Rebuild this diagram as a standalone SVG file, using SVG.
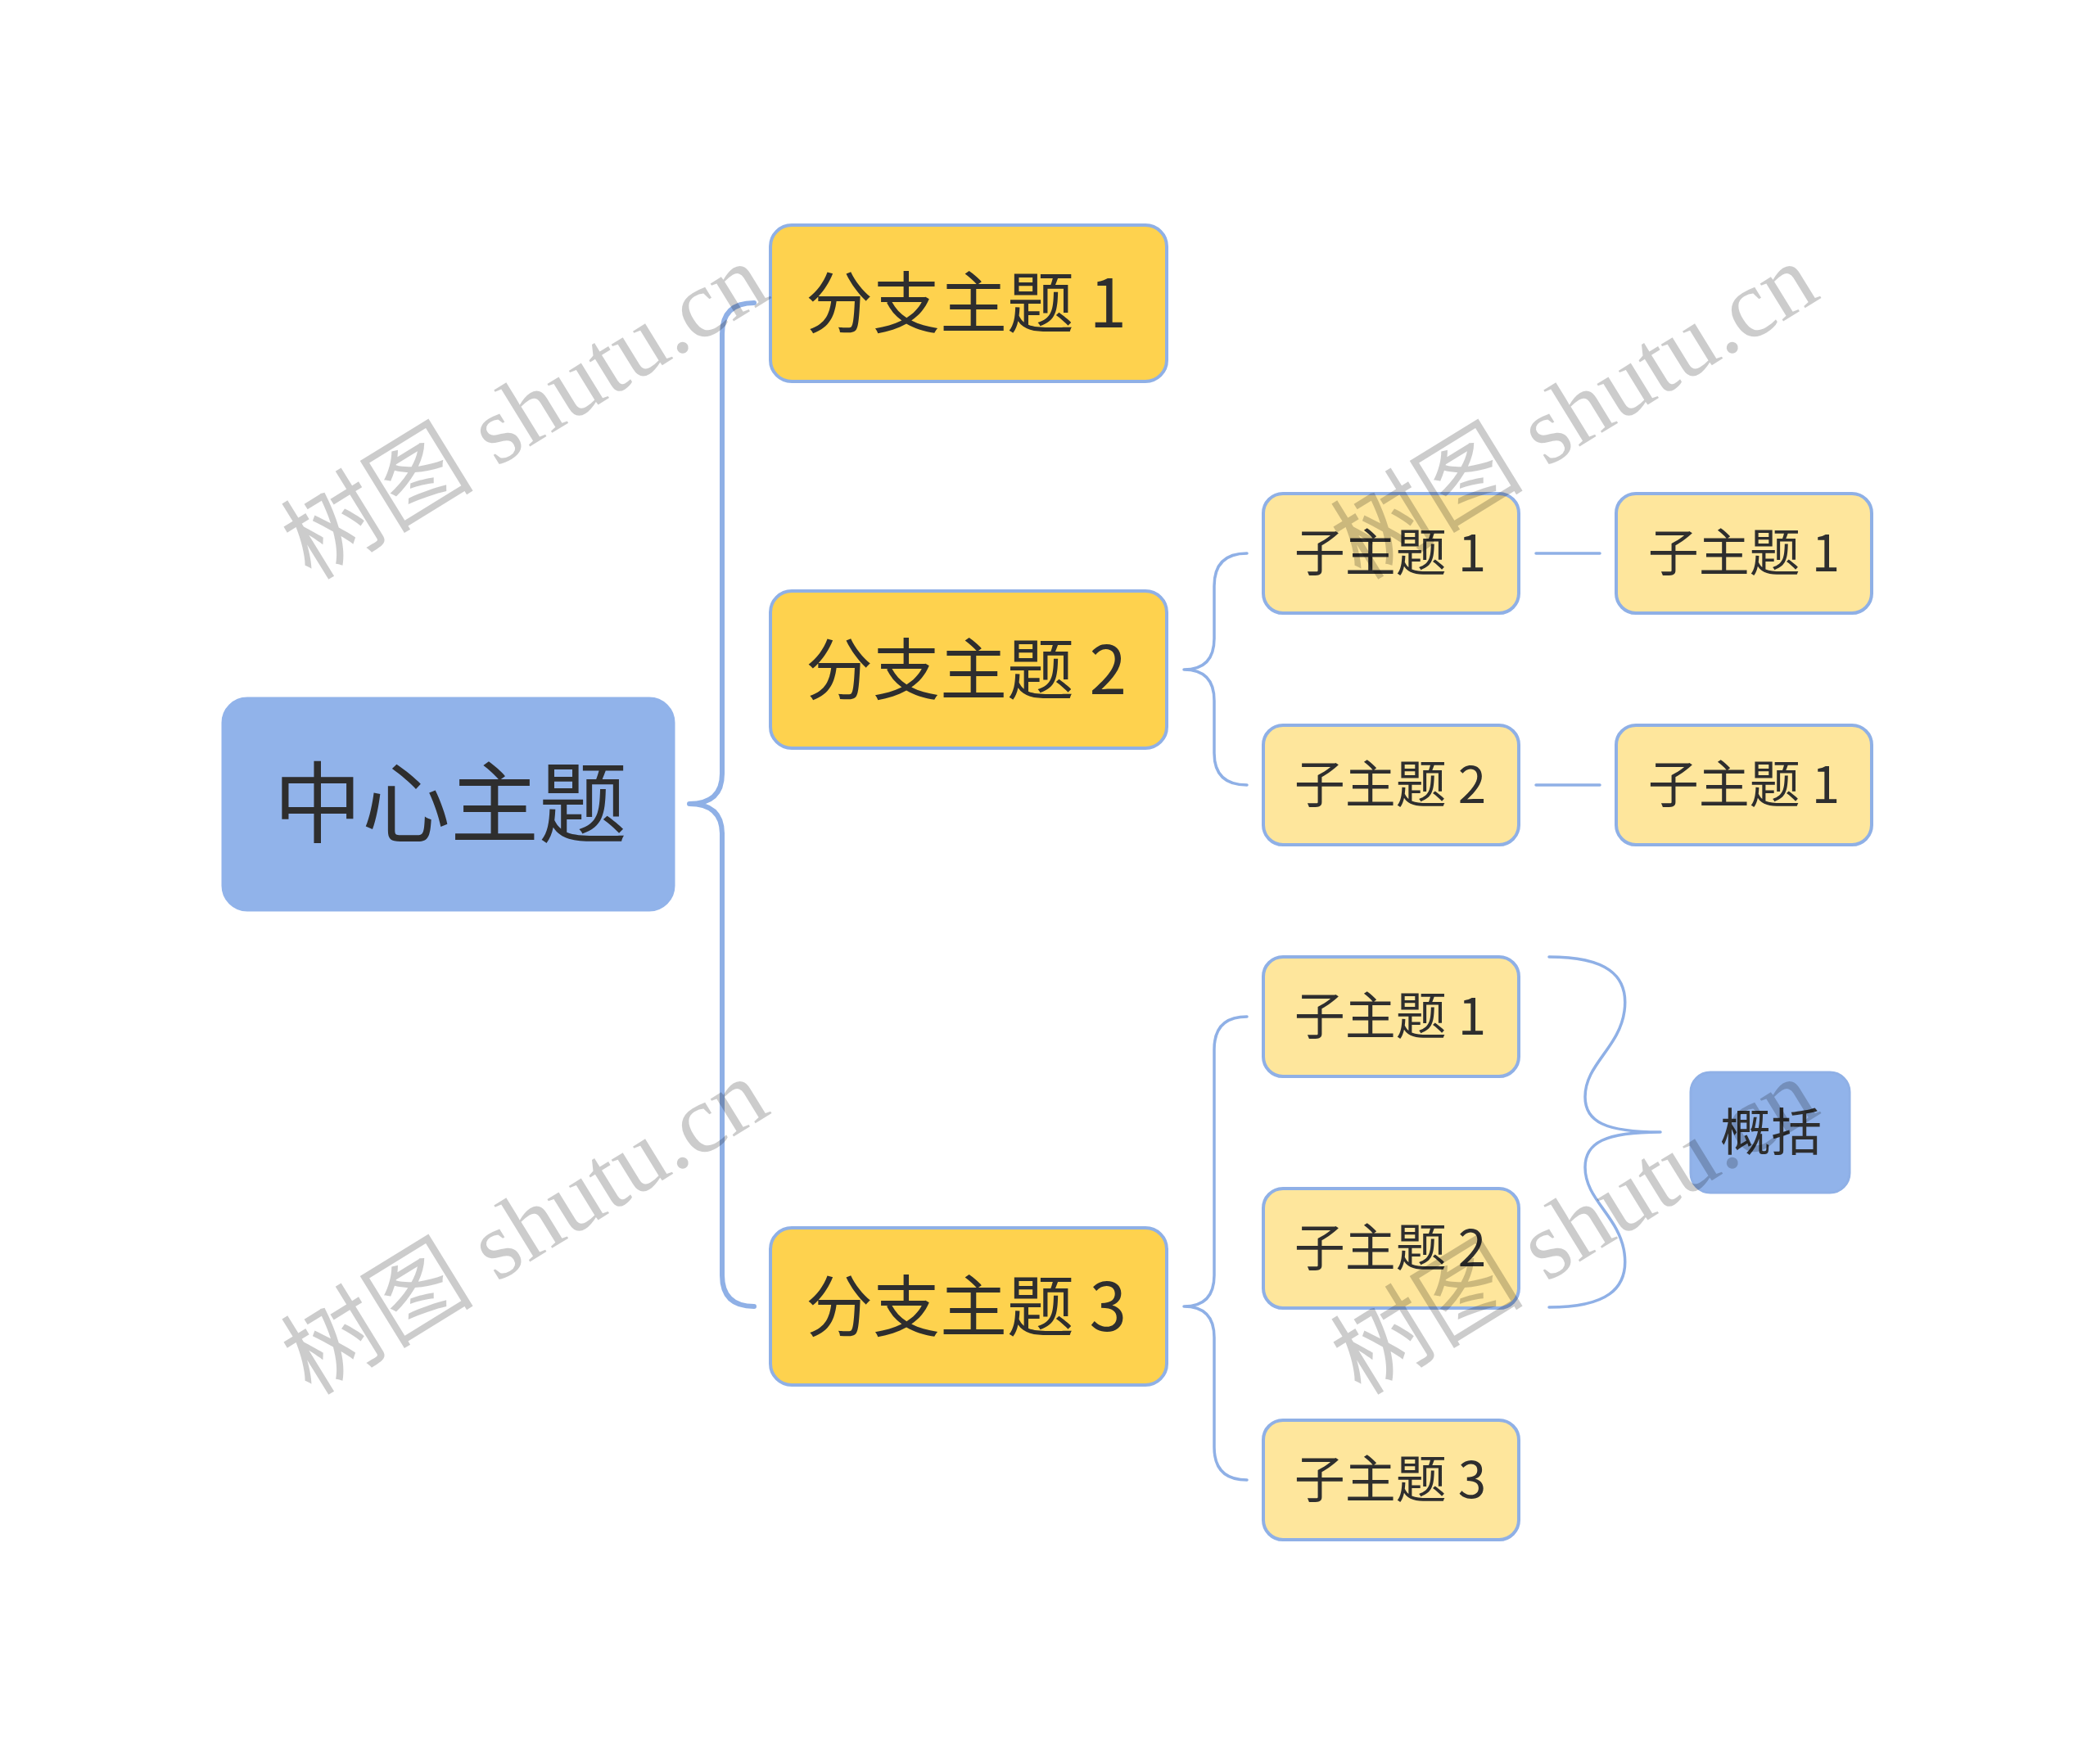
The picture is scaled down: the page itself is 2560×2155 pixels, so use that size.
<svg xmlns="http://www.w3.org/2000/svg" width="2560" height="2155" viewBox="0 0 2560 2155">
<style>
.bg{fill:#ffffff}
.center{fill:#91b3ea;stroke:#91b3ea;stroke-width:3}
.branch{fill:#fed24e;stroke:#8fb0e6;stroke-width:4}
.sub{fill:#fee69c;stroke:#8fb0e6;stroke-width:4}
.sum{fill:#91b3ea;stroke:#8fb0e6;stroke-width:3}
.t{font-family:"Noto Sans CJK SC","Noto Sans",sans-serif;fill:#2e2e2e;text-anchor:middle}
.conn path{fill:none;stroke:#8fb0e6;stroke-linecap:round;stroke-linejoin:round}
.main{stroke-width:6}
.thin{stroke-width:3.5}
.wm{font-family:"Liberation Serif","Noto Sans CJK SC",serif;font-size:118px;fill:#000000;fill-opacity:0.2}
</style>
<rect class="bg" x="0" y="0" width="2560" height="2155"/>
<g id="connectors" class="conn">
  <path class="main" d="M 921 370 Q 882 370 882 408 L 882 945 Q 882 982 842 982 Q 882 982 882 1019 L 882 1558 Q 882 1596 921 1596"/>
  <path class="thin" d="M 1523 676 Q 1483 676 1483 716 L 1483 780 Q 1483 818 1446 818 Q 1483 818 1483 856 L 1483 920 Q 1483 959 1523 959"/>
  <path class="thin" d="M 1523 1242 Q 1483 1242 1483 1282 L 1483 1558 Q 1483 1596 1446 1596 Q 1483 1596 1483 1634 L 1483 1768 Q 1483 1808 1523 1808"/>
  <path class="thin" d="M 1876 676 H 1954"/>
  <path class="thin" d="M 1876 959 H 1954"/>
  <path class="thin" d="M 1892 1169 C 1960 1169 1990 1190 1984 1235 C 1978 1280 1936 1300 1936 1340 C 1936 1370 1960 1383 2028 1383 C 1960 1383 1936 1396 1936 1426 C 1936 1466 1978 1486 1984 1531 C 1990 1576 1960 1597 1892 1597"/>
</g>
<g id="node-center">
  <rect class="center" x="272" y="853" width="551" height="259" rx="30"/>
  <text class="t" x="550" y="1021" font-size="108">中心主题</text>
</g>
<g id="node-branch1">
  <rect class="branch" x="941" y="275" width="484" height="191" rx="26"/>
  <text class="t" x="1180" y="400" font-size="82">分支主题 1</text>
</g>
<g id="node-branch2">
  <rect class="branch" x="941" y="722" width="484" height="192" rx="26"/>
  <text class="t" x="1180" y="848" font-size="82">分支主题 2</text>
</g>
<g id="node-branch3">
  <rect class="branch" x="941" y="1500" width="484" height="192" rx="26"/>
  <text class="t" x="1180" y="1626" font-size="82">分支主题 3</text>
</g>
<g id="node-sub2-1">
  <rect class="sub" x="1543" y="603" width="312" height="146" rx="24"/>
  <text class="t" x="1698" y="698" font-size="62">子主题 1</text>
</g>
<g id="node-sub2-2">
  <rect class="sub" x="1543" y="886" width="312" height="146" rx="24"/>
  <text class="t" x="1698" y="981" font-size="62">子主题 2</text>
</g>
<g id="node-sub2-1-1">
  <rect class="sub" x="1974" y="603" width="312" height="146" rx="24"/>
  <text class="t" x="2130" y="698" font-size="62">子主题 1</text>
</g>
<g id="node-sub2-2-1">
  <rect class="sub" x="1974" y="886" width="312" height="146" rx="24"/>
  <text class="t" x="2130" y="981" font-size="62">子主题 1</text>
</g>
<g id="node-sub3-1">
  <rect class="sub" x="1543" y="1169" width="312" height="146" rx="24"/>
  <text class="t" x="1698" y="1264" font-size="62">子主题 1</text>
</g>
<g id="node-sub3-2">
  <rect class="sub" x="1543" y="1452" width="312" height="146" rx="24"/>
  <text class="t" x="1698" y="1547" font-size="62">子主题 2</text>
</g>
<g id="node-sub3-3">
  <rect class="sub" x="1543" y="1735" width="312" height="146" rx="24"/>
  <text class="t" x="1698" y="1830" font-size="62">子主题 3</text>
</g>
<g id="node-summary">
  <rect class="sum" x="2065" y="1310" width="194" height="147" rx="24"/>
  <text class="t" x="2163" y="1406" font-size="62">概括</text>
</g>
<g id="watermarks">
  <text class="wm" x="380" y="710" transform="rotate(-31.6 380 710)">树图 shutu.cn</text>
  <text class="wm" x="1662" y="710" transform="rotate(-31.6 1662 710)">树图 shutu.cn</text>
  <text class="wm" x="380" y="1706" transform="rotate(-31.6 380 1706)">树图 shutu.cn</text>
  <text class="wm" x="1662" y="1706" transform="rotate(-31.6 1662 1706)">树图 shutu.cn</text>
</g>
</svg>
